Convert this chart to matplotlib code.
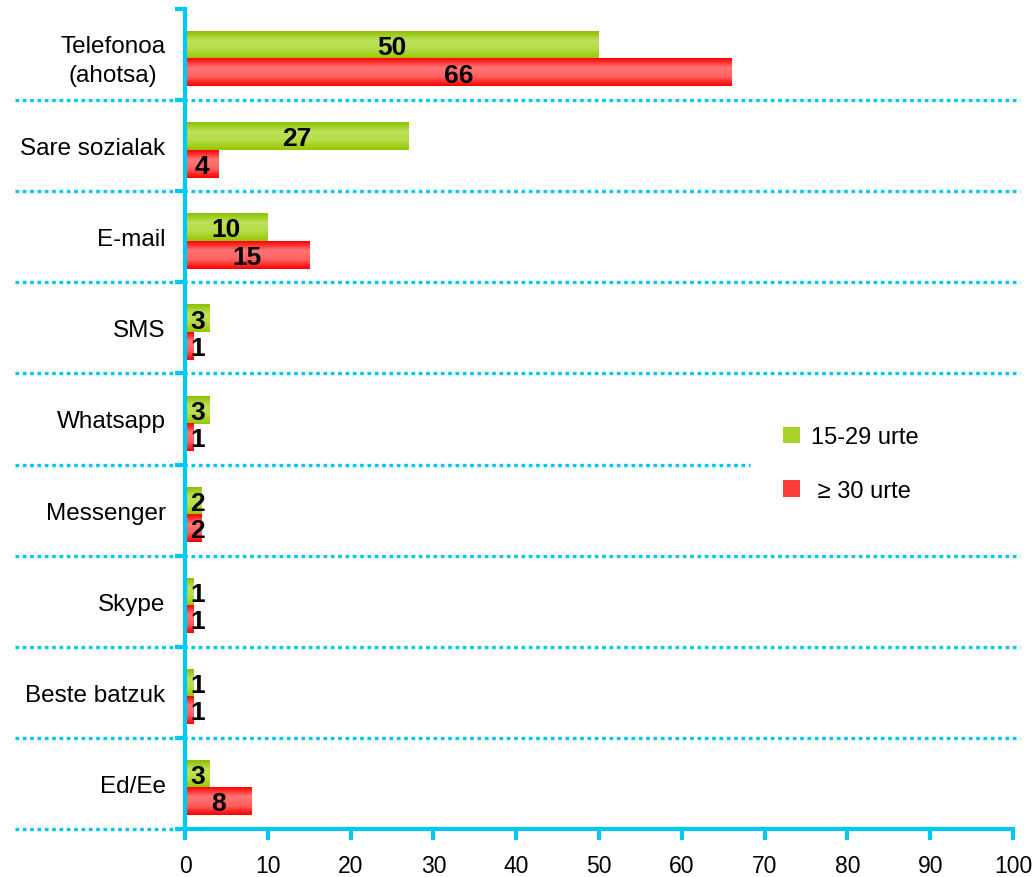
import numpy as np
import matplotlib
matplotlib.use("Agg")
import matplotlib.pyplot as plt
from matplotlib.colors import LinearSegmentedColormap
from matplotlib.patches import Patch
import matplotlib.transforms as mtransforms

plt.rcParams['font.family'] = ['Liberation Sans', 'DejaVu Sans']

categories = ["Telefonoa\n(ahotsa)", "Sare sozialak", "E-mail", "SMS", "Whatsapp",
              "Messenger", "Skype", "Beste batzuk", "Ed/Ee"]
young = [50, 27, 10, 3, 3, 2, 1, 1, 3]
older = [66, 4, 15, 1, 1, 2, 1, 1, 8]
series_names = ["15-29 urte", " \u2265 30 urte"]

cyan = "#00c8f5"
green_cmap = LinearSegmentedColormap.from_list("g", ["#8cbf00", "#bfe15c", "#b5dc45", "#94c600"])
red_cmap = LinearSegmentedColormap.from_list("r", ["#ff0000", "#ff7676", "#ff6060", "#ff0000"])

fig = plt.figure(figsize=(10.36, 8.78), dpi=100)
ax = fig.add_axes([0.1786, 0.0547, 0.7992, 0.9339])

pos = np.arange(len(categories))
h = 0.30
shift = 0.05
bars_y = ax.barh(pos + shift - h / 2, young, height=h, color="none", edgecolor="none")
bars_o = ax.barh(pos + shift + h / 2, older, height=h, color="none", edgecolor="none")

grad = np.linspace(0, 1, 64).reshape(-1, 1)
for bars, cmap in ((bars_y, green_cmap), (bars_o, red_cmap)):
    for b in bars:
        x0, y0 = b.get_x(), b.get_y()
        ax.imshow(grad, cmap=cmap, aspect="auto", interpolation="bicubic",
                  extent=[x0, x0 + b.get_width(), y0 + b.get_height(), y0], zorder=2)

# value labels, centred on the bar or nudged right when the bar is narrow
for bars, vals in ((bars_y, young), (bars_o, older)):
    for b, v in zip(bars, vals):
        ax.text(max(v / 2, 1.5), b.get_y() + b.get_height() / 2 + 0.02, str(v),
                ha="center", va="center", fontsize=19, fontweight="bold", zorder=3)

ax.set_xlim(0, 100)
ax.set_ylim(len(categories) - 0.5, -0.5)
ax.set_xticks(np.arange(0, 101, 10))
ax.set_yticks(np.arange(len(categories) + 1) - 0.5, minor=True)
ax.set_yticks(pos)
ax.set_yticklabels(categories, fontsize=17.5, multialignment="center", linespacing=1.4)
ax.tick_params(axis="x", labelsize=16.5, color=cyan, width=3, length=8, pad=10)
ax.tick_params(axis="y", which="major", length=0, pad=14)
ax.tick_params(axis="y", which="minor", color=cyan, width=3, length=7)

for s in ("top", "right"):
    ax.spines[s].set_visible(False)
for s in ("left", "bottom"):
    ax.spines[s].set_color(cyan)
    ax.spines[s].set_linewidth(3)
    ax.spines[s].set_zorder(4)

# dotted separators between categories, running past the axes
trans = mtransforms.blended_transform_factory(ax.transAxes, ax.transData)
seps = np.arange(1, len(categories) + 1) - 0.5
for y in seps:
    right = 1.008
    if y == 4.5:
        right = 0.682
    if y == seps[-1]:
        right = 0.02
    ax.plot([-0.205, right], [y, y], transform=trans, clip_on=False,
            color=cyan, lw=2.4, ls=(0, (1.1, 1.1)), zorder=1)

handles = [Patch(facecolor="#a6d22a"), Patch(facecolor="#ff3c3c")]
ax.legend(handles, series_names, loc="center left", bbox_to_anchor=(0.697, 0.445),
          frameon=False, fontsize=17, handlelength=0.7, handleheight=0.7,
          labelspacing=1.35, handletextpad=0.45)

fig.savefig("out.png", dpi=100)
